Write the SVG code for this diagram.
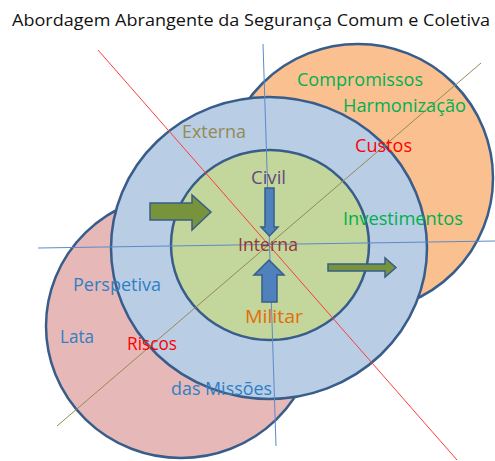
<svg xmlns="http://www.w3.org/2000/svg" width="495" height="461" viewBox="0 0 495 461">
  <style>
    .ring { stroke: #385D8A; stroke-width: 2.5; }
    .axis { fill: none; stroke-width: 1; }
    .lbl { font-family: "Open Sans", Lato, "Liberation Sans", sans-serif; font-size: 18px; }
    .title { font-family: "Open Sans", Lato, "Liberation Sans", sans-serif; font-size: 17px; fill: #111; }
    .arrow-g { fill: #77933C; stroke: #385D8A; stroke-width: 1.5; stroke-linejoin: miter; }
    .arrow-b { fill: #4F81BD; stroke: #385D8A; stroke-width: 1.5; stroke-linejoin: miter; }
  </style>
  <rect width="495" height="461" fill="#fff"/>

  <!-- title -->
  <text class="title" x="12" y="26" textLength="478" lengthAdjust="spacingAndGlyphs">Abordagem Abrangente da Segurança Comum e Coletiva</text>

  <!-- outer circles -->
  <g id="costs">
    <ellipse class="ring" cx="358" cy="178" rx="135" ry="134" fill="#FAC090"/>
  </g>
  <g id="risks">
    <ellipse class="ring" cx="181" cy="326" rx="135" ry="132" fill="#E6B9B8"/>
  </g>
  <g id="external">
    <ellipse class="ring" cx="269" cy="248" rx="158" ry="151" fill="#B9CDE5"/>
  </g>
  <g id="internal">
    <ellipse class="ring" cx="270" cy="245" rx="99" ry="95" fill="#C3D69B"/>
  </g>

  <!-- axes -->
  <g id="connectors">
    <line class="axis" x1="98" y1="50" x2="457" y2="460" stroke="#FF3B3B"/>
    <line class="axis" x1="57" y1="426" x2="481" y2="63" stroke="#948A54"/>
    <line class="axis" x1="263" y1="44" x2="276" y2="446" stroke="#5B8ACB"/>
    <line class="axis" x1="38" y1="248" x2="495" y2="241" stroke="#5B8ACB"/>
  </g>

  <!-- block arrows -->
  <g id="arrows">
    <polygon class="arrow-g" points="150,203 192,203 192,195 211,212 192,230 192,220 150,220"/>
    <polygon class="arrow-b" points="265,188 274,188 274,227 278,227 269.5,236 261,227 265,227"/>
    <polygon class="arrow-b" points="269,260 284,275 277,275 277,302 262,302 262,275 254,275"/>
    <polygon class="arrow-g" points="328,264 385,264 385,258 396,267.5 385,277 385,271 328,271"/>
  </g>

  <!-- labels -->
  <g id="labels">
    <text class="lbl" x="297" y="86" fill="#00B050" textLength="126" lengthAdjust="spacingAndGlyphs">Compromissos</text>
    <text class="lbl" x="343" y="112" fill="#00B050" textLength="123" lengthAdjust="spacingAndGlyphs">Harmonização</text>
    <text class="lbl" x="355" y="152" fill="#FF0000" textLength="57" lengthAdjust="spacingAndGlyphs">Custos</text>
    <text class="lbl" x="343" y="225" fill="#00B050" textLength="120" lengthAdjust="spacingAndGlyphs">Investimentos</text>
    <text class="lbl" x="182" y="138" fill="#948A54" textLength="64" lengthAdjust="spacingAndGlyphs">Externa</text>
    <text class="lbl" x="251" y="184" fill="#604A7B" textLength="35" lengthAdjust="spacingAndGlyphs">Civil</text>
    <text class="lbl" x="238" y="251" fill="#953735" textLength="60" lengthAdjust="spacingAndGlyphs">Interna</text>
    <text class="lbl" x="245" y="323" fill="#E46C0A" textLength="58" lengthAdjust="spacingAndGlyphs">Militar</text>
    <text class="lbl" x="73" y="291" fill="#2F7FC4" textLength="88" lengthAdjust="spacingAndGlyphs">Perspetiva</text>
    <text class="lbl" x="60" y="343" fill="#2F7FC4" textLength="34" lengthAdjust="spacingAndGlyphs">Lata</text>
    <text class="lbl" x="127" y="350" fill="#FF0000" textLength="50" lengthAdjust="spacingAndGlyphs">Riscos</text>
    <text class="lbl" x="171" y="395" fill="#2F7FC4" textLength="101" lengthAdjust="spacingAndGlyphs">das Missões</text>
  </g>
</svg>
